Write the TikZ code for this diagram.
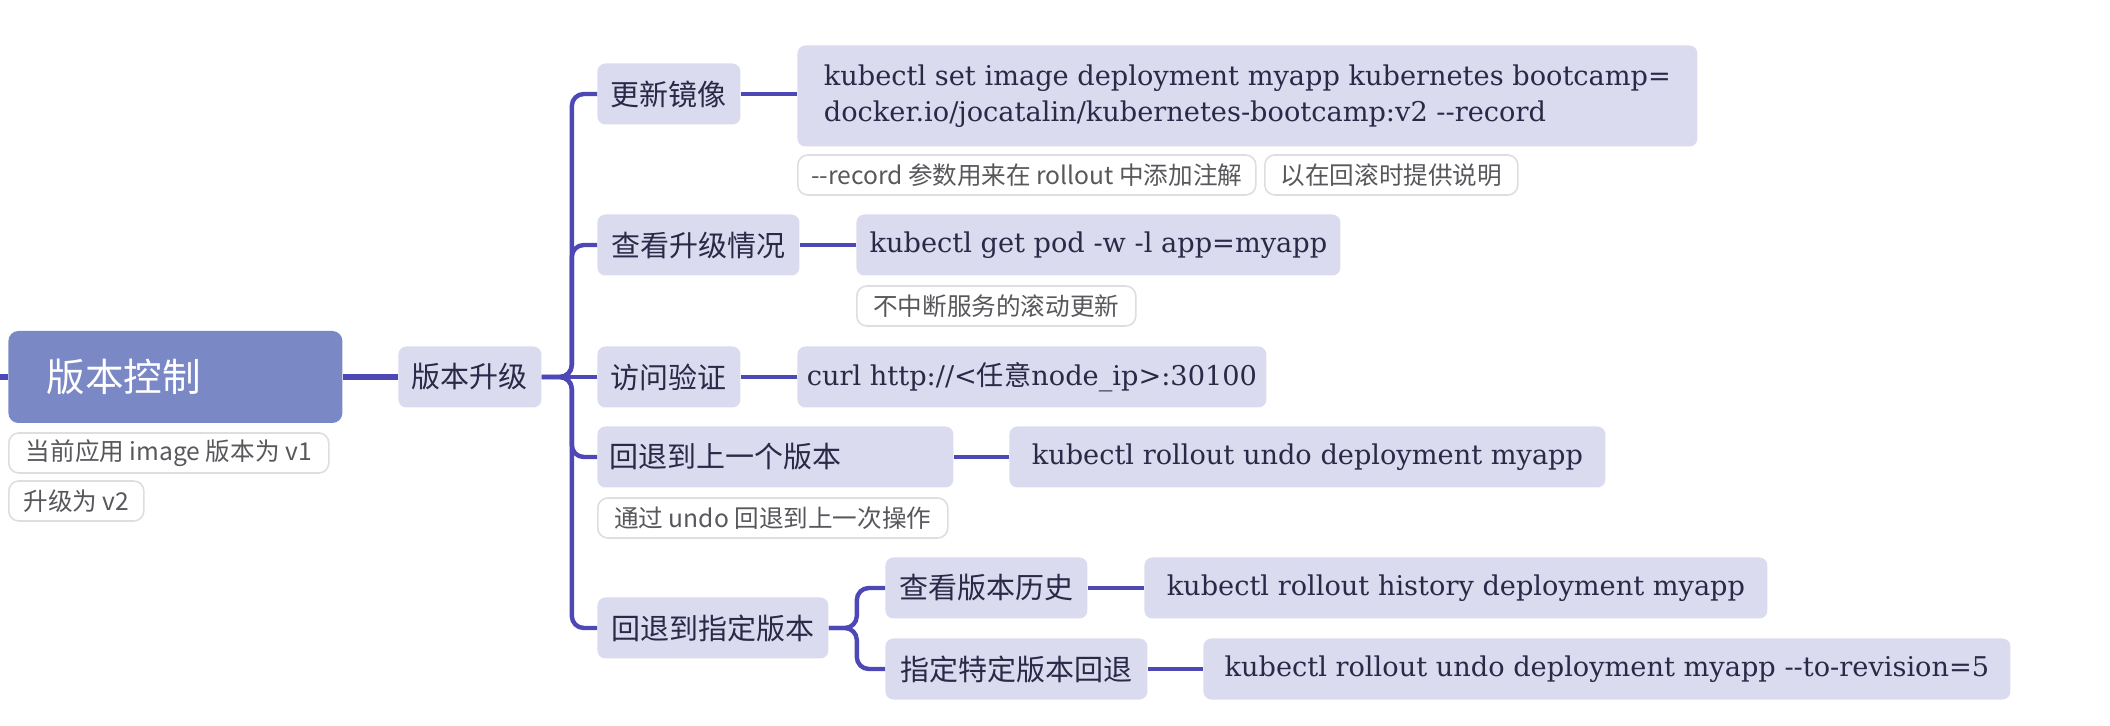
\documentclass[tikz,border=0pt]{standalone}
\usepackage{fontspec}
\setmainfont{Noto Sans CJK SC}
\newfontfamily\cjk{Noto Sans CJK SC}
\newfontfamily\codefont{DejaVu Serif}
\usetikzlibrary{positioning}
\definecolor{branchline}{RGB}{78,72,182}
\definecolor{topicfill}{RGB}{219,219,239}
\definecolor{rootfill}{RGB}{123,136,198}
\definecolor{topictext}{RGB}{42,41,72}
\definecolor{remarkline}{RGB}{222,222,222}
\definecolor{remarktext}{RGB}{88,88,92}

\begin{document}
\begin{tikzpicture}[
		x=0.5pt, y=-0.5pt,
		root/.style={rectangle, rounded corners=5pt, fill=rootfill, text=white, anchor=west, inner xsep=19pt, inner ysep=0pt, text width=129pt, align=left, minimum height=46pt, font=\fontsize{19.3}{23}\selectfont},
		topic/.style={rectangle, rounded corners=4pt, fill=topicfill, text=topictext, anchor=west, inner xsep=6pt, inner ysep=0pt, minimum height=30.5pt, font=\fontsize{14.5}{17}\selectfont},
		command/.style={topic, inner xsep=4.5pt, font=\codefont\fontsize{13.6}{18}\selectfont},
		remark/.style={rectangle, rounded corners=5pt, draw=remarkline, line width=0.8pt, fill=white, text=remarktext, anchor=west, inner xsep=4pt, inner ysep=0pt, minimum height=20pt, font=\fontsize{12.3}{14}\selectfont},
		branch/.style={draw=branchline, line width=2.2pt, rounded corners=6pt},
		trunk/.style={draw=branchline, line width=3pt}
		]
		\useasboundingbox (0, 0) rectangle (2110, 726);
		\coordinate (left edge) at (0, 377);
		\node (version control) at (8, 377) [root] {版本控制};
		\node (current note) at (8, 453) [remark, minimum width=160pt] {当前应用 image 版本为 v1};
		\node (target note) at (8, 501) [remark, minimum width=67.5pt] {升级为 v2};
		\node (upgrade) at (398, 377) [topic, minimum width=71.5pt] {版本升级};

		\node (update image) at (597, 94) [topic, minimum width=71.5pt] {更新镜像};
		\node (set image) at (797, 96) [command, minimum width=450pt, align=left, minimum height=50.5pt] {kubectl set image deployment myapp kubernetes bootcamp=\\docker.io/jocatalin/kubernetes-bootcamp:v2 -{}-record};
		\node (record note) at (797, 175) [remark, minimum width=229pt] {-{}-record 参数用来在 rollout 中添加注解};
		\node (record hint) at (1264, 175) [remark, minimum width=126.5pt] {以在回滚时提供说明};

		\node (watch upgrade) at (597, 245) [topic, minimum width=101pt] {查看升级情况};
		\node (get pod) at (856, 245) [command, minimum width=242pt] {kubectl get pod -w -l app=myapp};
		\node (rolling note) at (856, 306) [remark, minimum width=139.5pt] {不中断服务的滚动更新};

		\node (verify) at (597, 377) [topic, minimum width=71.5pt] {访问验证};
		\node (curl) at (797, 377) [command, minimum width=234.5pt] {curl http://<{\cjk 任意}node\_ip>:30100};

		\node (undo last) at (597, 457) [topic, text width=166pt, align=left] {回退到上一个版本};
		\node (rollout undo) at (1009, 457) [command, minimum width=298pt] {kubectl rollout undo deployment myapp};
		\node (undo note) at (597, 518) [remark, minimum width=175pt] {通过 undo 回退到上一次操作};

		\node (undo to) at (597, 628) [topic, minimum width=115.5pt] {回退到指定版本};
		\node (history) at (885, 588) [topic, minimum width=101pt] {查看版本历史};
		\node (rollout history) at (1144, 588) [command, minimum width=311.5pt] {kubectl rollout history deployment myapp};
		\node (pick revision) at (885, 669) [topic, minimum width=131pt] {指定特定版本回退};
		\node (undo revision) at (1203, 669) [command, minimum width=403.5pt] {kubectl rollout undo deployment myapp -{}-to-revision=5};

		\draw[trunk] (left edge) -- (version control);
		\draw[trunk] (version control) -- (upgrade);
		\draw[branch] (upgrade.east) -- ++(30, 0) |- (update image.west);
		\draw[branch] (upgrade.east) -- ++(30, 0) |- (watch upgrade.west);
		\draw[branch] (upgrade) -- (verify);
		\draw[branch] (upgrade.east) -- ++(30, 0) |- (undo last.west);
		\draw[branch] (upgrade.east) -- ++(30, 0) |- (undo to.west);
		\draw[branch] (update image.east) -- (update image.east -| set image.west);
		\draw[branch] (watch upgrade) -- (get pod);
		\draw[branch] (verify) -- (curl);
		\draw[branch] (undo last) -- (rollout undo);
		\draw[branch] (undo to.east) -- ++(28, 0) |- (history.west);
		\draw[branch] (undo to.east) -- ++(28, 0) |- (pick revision.west);
		\draw[branch] (history) -- (rollout history);
		\draw[branch] (pick revision) -- (undo revision);
	\end{tikzpicture}
\end{document}
